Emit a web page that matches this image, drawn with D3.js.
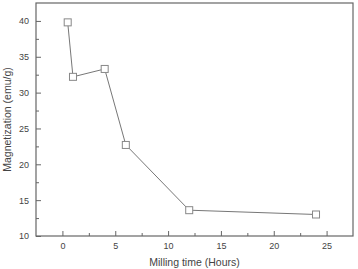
<!DOCTYPE html>
<html>
<head>
<meta charset="utf-8">
<script src="https://cdn.jsdelivr.net/npm/d3@7"></script>
<style>
  body { margin: 0; background: #fff; }
  text { font-family: "Liberation Sans", Arial, sans-serif; fill: #444; }
</style>
</head>
<body>
<svg width="358" height="269"></svg>
<script>
// milling time (hours) vs magnetization (emu/g)
const millingTime = [0.5, 1, 4, 6, 12, 24];
const magnetization = [39.8, 32.2, 33.3, 22.7, 13.6, 13.0];
const xTicks = [0, 5, 10, 15, 20, 25];
const yTicks = [10, 15, 20, 25, 30, 35, 40];

const margin = {left: 36, right: 5, top: 3, bottom: 33};
const width = 358 - margin.left - margin.right;
const height = 269 - margin.top - margin.bottom;

const xScale = d3.scaleLinear().domain([-2.5, 27.5]).range([0, width]);
const yScale = d3.scaleLinear().domain([10, 42.5]).range([height, 0]);

const svg = d3.select('svg');
const g = svg.append('g').attr('transform', `translate(${margin.left},${margin.top})`);

// frame
g.append('rect')
  .attr('width', width).attr('height', height)
  .attr('fill', 'none').attr('stroke', '#666').attr('stroke-width', 1.2);

// minor ticks (inside)
const xMinor = d3.range(-2.5, 27.6, 2.5).filter(v => v > -2.5 && v < 27.5);
const yMinor = d3.range(12.5, 42.5, 5);

const xAxis = g.append('g').attr('transform', `translate(0,${height})`)
  .call(d3.axisBottom(xScale).tickValues(xTicks).tickSize(-5).tickPadding(7));
g.append('g').attr('transform', `translate(0,${height})`)
  .call(d3.axisBottom(xScale).tickValues(xMinor.filter(v => !xTicks.includes(v))).tickSize(-3).tickFormat(''));
const yAxis = g.append('g')
  .call(d3.axisLeft(yScale).tickValues(yTicks).tickSize(-5).tickPadding(7));
g.append('g')
  .call(d3.axisLeft(yScale).tickValues(yMinor).tickSize(-3).tickFormat(''));

g.selectAll('.domain').remove();
g.selectAll('.tick line').attr('stroke', '#666');
g.selectAll('.tick text').style('font-size', '9px').attr('fill', '#444');

// line + markers
const pts = millingTime.map((t, i) => ({t, m: magnetization[i]}));
g.append('path')
  .datum(pts)
  .attr('fill', 'none').attr('stroke', '#777').attr('stroke-width', 1)
  .attr('d', d3.line().x(d => xScale(d.t)).y(d => yScale(d.m)));

g.selectAll('.pt').data(pts).enter().append('rect')
  .attr('class', 'pt')
  .attr('x', d => xScale(d.t) - 3.5).attr('y', d => yScale(d.m) - 3.5)
  .attr('width', 7).attr('height', 7)
  .attr('fill', '#fff').attr('stroke', '#888').attr('stroke-width', 1);

// axis titles
svg.append('text')
  .attr('x', margin.left + xScale(12.5)).attr('y', 266)
  .attr('text-anchor', 'middle').style('font-size', '10.5px')
  .text('Milling time (Hours)');
svg.append('text')
  .attr('transform', `translate(11,${margin.top + height / 2}) rotate(-90)`)
  .attr('text-anchor', 'middle').style('font-size', '10.5px')
  .text('Magnetization (emu/g)');
</script>
</body>
</html>
